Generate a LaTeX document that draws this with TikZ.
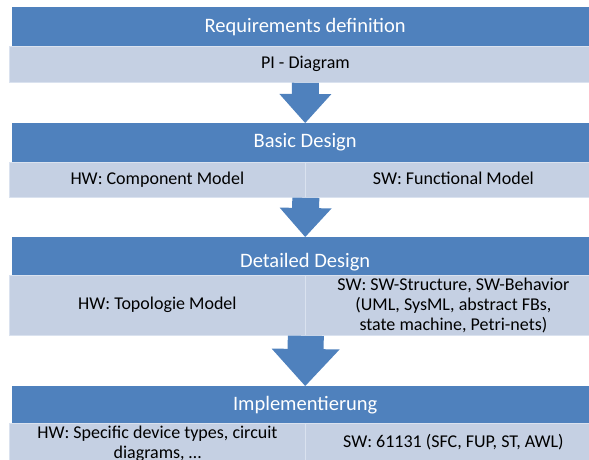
\documentclass[tikz,border=0pt]{standalone}
\usepackage{fontspec}
\setmainfont{Carlito}
\usetikzlibrary{arrows.meta}
\definecolor{headblue}{RGB}{79,129,189}
\definecolor{barblue}{RGB}{197,208,227}
\definecolor{baredge}{RGB}{218,226,239}
\tikzset{
    node style head/.style={fill=headblue,text=white,minimum width=586pt,inner sep=2pt,
        font=\fontsize{20.5}{24}\selectfont,anchor=north west},
    node style bar/.style={fill=barblue,draw=baredge,line width=0.8pt,text=black,inner sep=2pt,
        align=center,font=\fontsize{18}{20}\selectfont,anchor=north west},
    node style full/.style={node style bar,minimum width=592pt},
    node style half/.style={node style bar,minimum width=296pt},
    node style line/.style={text height=13pt,text depth=4pt},
    arrow style small/.style={draw=headblue,line width=27pt,
        -{Triangle[width=52pt,length=29pt,line width=0pt]}},
    arrow style big/.style={draw=headblue,line width=36pt,
        -{Triangle[width=68pt,length=37pt,line width=0pt]}},
}
\begin{document}
\begin{tikzpicture}[x=1pt,y=-1pt]
\useasboundingbox (0,0) rectangle (589,459);
\clip (0,0) rectangle (589,459);

\node [node style head,minimum height=39pt] (req) at (12,7) {Requirements definition};
\node [node style full,node style line,minimum height=36pt] (pidiag) at (9,46) {PI - Diagram};

\node [node style head,minimum height=39pt] (basic) at (12,123) {Basic Design};
\node [node style half,node style line,minimum height=35pt] (hwcomp) at (9,162) {HW: Component Model};
\node [node style half,node style line,minimum height=35pt] (swfunc) at (305,162) {SW: Functional Model};

\node [node style head,minimum height=38pt,text height=26pt,text depth=4pt] (detailed) at (12,237) {Detailed Design};
\node [node style half,node style line,minimum height=60pt] (hwtopo) at (9,275) {HW: Topologie Model};
\node [node style half,minimum height=60pt] (swstruct) at (305,275)
    {SW: SW-Structure, SW-Behavior\\(UML, SysML, abstract FBs,\\state machine, Petri-nets)};

\node [node style head,minimum height=37pt] (impl) at (12,386) {Implementierung};
\node [node style half,minimum height=40pt] (hwdev) at (9,423) {HW: Specific device types, circuit\\diagrams, \dots};
\node [node style half,node style line,minimum height=40pt] (swiec) at (305,423) {SW: 61131 (SFC, FUP, ST, AWL)};

\draw [arrow style small] (pidiag.south) -- (basic.north);
\draw [arrow style small] (hwcomp.south east) -- (detailed.north);
\draw [arrow style big] (hwtopo.south east) -- (impl.north);

\end{tikzpicture}
\end{document}
